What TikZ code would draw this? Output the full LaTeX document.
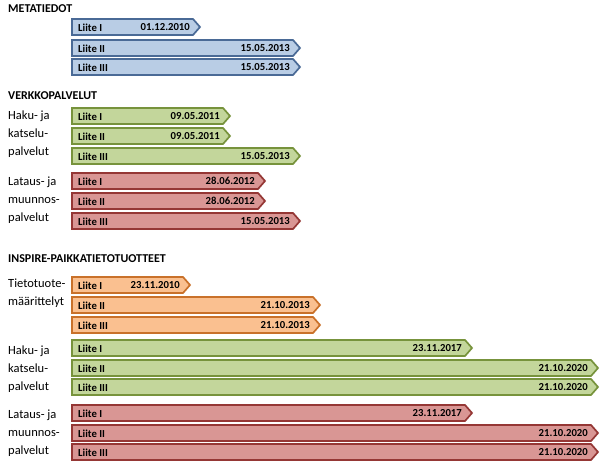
\documentclass[tikz,border=0pt]{standalone}
\usepackage{fontspec}
\setmainfont{Carlito}
\tikzset{
  title/.style={anchor=west,font=\bfseries\fontsize{12}{13}\selectfont,inner sep=0pt},
  side/.style={anchor=west,align=left,font=\fontsize{12.5}{18}\selectfont,inner sep=0pt},
  bartext/.style={font=\bfseries\fontsize{10.7}{12}\selectfont,inner sep=0pt},
  blueb/.style={fill=bluef,draw=blued},
  greenb/.style={fill=greenf,draw=greend},
  redb/.style={fill=redf,draw=redd},
  orangeb/.style={fill=orangef,draw=oranged},
}
\definecolor{bluef}{HTML}{B9CDE5}
\definecolor{blued}{HTML}{4A6A96}
\definecolor{greenf}{HTML}{C3D69B}
\definecolor{greend}{HTML}{77933C}
\definecolor{redf}{HTML}{D99694}
\definecolor{redd}{HTML}{953735}
\definecolor{orangef}{HTML}{FAC090}
\definecolor{oranged}{HTML}{C9712A}
\newcommand\liitebar[6]{%
  \draw[#3,line width=1.7pt,line join=miter] (72,#1) -- (#2-7,#1) -- (#2,#1+8) -- (#2-7,#1+16) -- (72,#1+16) -- cycle;
  \node[bartext,anchor=west] (#6a) at (78,#1+8.3) {#4};
  \node[bartext,anchor=east] (#6b) at (#2-10,#1+8.3) {#5};
}
\begin{document}
\begin{tikzpicture}[x=1pt,y=-1pt]
\useasboundingbox (0,0) rectangle (600,466);
\node[title] (t1) at (8,9) {METATIEDOT};
\liitebar{19}{200}{blueb}{Liite I}{01.12.2010}{m1}
\liitebar{40}{300}{blueb}{Liite II}{15.05.2013}{m2}
\liitebar{59}{300}{blueb}{Liite III}{15.05.2013}{m3}

\node[title] (t2) at (8,96) {VERKKOPALVELUT};
\node[side,anchor=north west] (s1) at (8,111) {Haku- ja\\katselu-\\palvelut};
\liitebar{108}{230}{greenb}{Liite I}{09.05.2011}{v1}
\liitebar{128}{230}{greenb}{Liite II}{09.05.2011}{v2}
\liitebar{148}{300}{greenb}{Liite III}{15.05.2013}{v3}
\node[side,anchor=north west] (s2) at (8,177) {Lataus- ja\\muunnos-\\palvelut};
\liitebar{173}{265}{redb}{Liite I}{28.06.2012}{v4}
\liitebar{193}{265}{redb}{Liite II}{28.06.2012}{v5}
\liitebar{213}{300}{redb}{Liite III}{15.05.2013}{v6}

\node[title] (t3) at (8,259) {INSPIRE-PAIKKATIETOTUOTTEET};
\node[side,anchor=north west] (s3) at (8,279) {Tietotuote-\\määrittelyt};
\liitebar{277}{190}{orangeb}{Liite I}{23.11.2010}{i1}
\liitebar{297}{320}{orangeb}{Liite II}{21.10.2013}{i2}
\liitebar{317}{320}{orangeb}{Liite III}{21.10.2013}{i3}

\node[side,anchor=north west] (s4) at (8,346) {Haku- ja\\katselu-\\palvelut};
\liitebar{340}{472}{greenb}{Liite I}{23.11.2017}{h1}
\liitebar{360}{598}{greenb}{Liite II}{21.10.2020}{h2}
\liitebar{379}{598}{greenb}{Liite III}{21.10.2020}{h3}
\node[side,anchor=north west] (s5) at (8,410) {Lataus- ja\\muunnos-\\palvelut};
\liitebar{405}{472}{redb}{Liite I}{23.11.2017}{l1}
\liitebar{425}{598}{redb}{Liite II}{21.10.2020}{l2}
\liitebar{444}{598}{redb}{Liite III}{21.10.2020}{l3}
\end{tikzpicture}
\end{document}
